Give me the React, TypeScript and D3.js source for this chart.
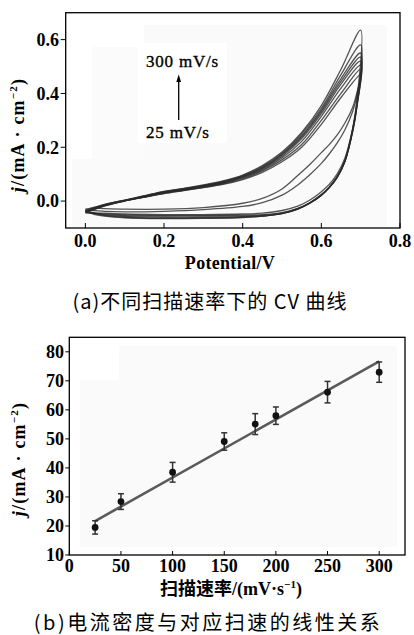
import React from "react";
import * as d3 from "d3";

// CV curves: potential grids for the anodic (forward) and cathodic (reverse) scans
const forwardV = [0, 0.05, 0.1, 0.15, 0.2, 0.25, 0.3, 0.35, 0.4, 0.45, 0.5, 0.55, 0.6, 0.65, 0.7];
const reverseV = [0.7, 0.69, 0.68, 0.66, 0.64, 0.62, 0.6, 0.57, 0.54, 0.5, 0.45, 0.4, 0.3, 0.2, 0.1, 0.05, 0.02, 0];

const scanRates = [25, 50, 100, 150, 180, 200, 250, 300];

// current density (mA/cm2) on the forward scan, one row per scan rate
const forwardJ = [
  [-0.032, -0.012, 0.003, 0.015, 0.028, 0.039, 0.05, 0.062, 0.08, 0.107, 0.146, 0.2, 0.285, 0.385, 0.47],
  [-0.036, -0.014, 0.002, 0.015, 0.029, 0.04, 0.051, 0.064, 0.083, 0.112, 0.153, 0.21, 0.3, 0.4, 0.49],
  [-0.04, -0.016, 0.001, 0.015, 0.03, 0.041, 0.053, 0.066, 0.086, 0.116, 0.16, 0.222, 0.315, 0.42, 0.505],
  [-0.044, -0.018, 0.0, 0.016, 0.032, 0.043, 0.055, 0.068, 0.089, 0.12, 0.166, 0.232, 0.325, 0.435, 0.52],
  [-0.042, -0.017, 0.001, 0.017, 0.033, 0.044, 0.056, 0.07, 0.091, 0.122, 0.17, 0.238, 0.332, 0.445, 0.535],
  [-0.04, -0.016, 0.002, 0.018, 0.034, 0.045, 0.057, 0.071, 0.093, 0.125, 0.174, 0.243, 0.338, 0.455, 0.55],
  [-0.038, -0.014, 0.003, 0.019, 0.035, 0.046, 0.058, 0.073, 0.095, 0.128, 0.178, 0.25, 0.345, 0.47, 0.58],
  [-0.035, -0.012, 0.004, 0.02, 0.036, 0.047, 0.06, 0.075, 0.097, 0.132, 0.182, 0.255, 0.355, 0.49, 0.635],
];

// current density on the reverse scan
const reverseJ = [
  [0.47, 0.4, 0.35, 0.29, 0.245, 0.21, 0.18, 0.135, 0.095, 0.045, 0.01, -0.008, -0.024, -0.03, -0.03, -0.028, -0.026, -0.03],
  [0.49, 0.39, 0.335, 0.265, 0.215, 0.175, 0.14, 0.097, 0.06, 0.022, -0.006, -0.02, -0.032, -0.038, -0.04, -0.038, -0.035, -0.035],
  [0.505, 0.35, 0.27, 0.16, 0.1, 0.062, 0.035, 0.003, -0.019, -0.035, -0.045, -0.048, -0.05, -0.05, -0.048, -0.045, -0.043, -0.04],
  [0.52, 0.345, 0.26, 0.15, 0.09, 0.052, 0.024, -0.007, -0.027, -0.043, -0.05, -0.052, -0.053, -0.053, -0.051, -0.048, -0.046, -0.044],
  [0.535, 0.35, 0.262, 0.148, 0.088, 0.05, 0.022, -0.008, -0.029, -0.045, -0.053, -0.055, -0.056, -0.056, -0.054, -0.05, -0.045, -0.042],
  [0.55, 0.355, 0.265, 0.147, 0.087, 0.049, 0.021, -0.009, -0.03, -0.047, -0.055, -0.058, -0.06, -0.06, -0.057, -0.052, -0.045, -0.04],
  [0.58, 0.36, 0.268, 0.148, 0.088, 0.05, 0.022, -0.008, -0.03, -0.047, -0.056, -0.06, -0.063, -0.064, -0.06, -0.054, -0.046, -0.038],
  [0.635, 0.37, 0.272, 0.15, 0.09, 0.052, 0.024, -0.006, -0.028, -0.046, -0.056, -0.061, -0.064, -0.065, -0.062, -0.056, -0.048, -0.035],
];

const cvXTicks = [0, 0.2, 0.4, 0.6, 0.8];
const cvYTicks = [0, 0.2, 0.4, 0.6];

// panel b: peak current density vs scan rate
const rates = [25, 50, 100, 150, 180, 200, 250, 300];
const density = [19.5, 28.4, 38.5, 49.1, 55.1, 58, 66.1, 73];
const densityErr = [2.3, 2.7, 3.4, 3, 3.6, 3, 3.7, 3.5];
const fitRates = [25, 300];
const fitDensity = [21.7, 76.7];
const rateTicks = [0, 50, 100, 150, 200, 250, 300];
const densityTicks = [10, 20, 30, 40, 50, 60, 70, 80];

const serif = "'Liberation Serif', 'Times New Roman', serif";
const cjk = "'Noto Sans CJK SC', sans-serif";

function YTitle({ x, y }: { x: number; y: number }) {
  return (
    <text
      transform={`translate(${x},${y}) rotate(-90)`}
      textAnchor="middle"
      fontFamily={serif}
      fontWeight="bold"
      fontSize={18}
      letterSpacing={1.2}
    >
      <tspan fontStyle="italic">j</tspan>/(mA · cm<tspan dy={-7} fontSize={11}>−2</tspan>
      <tspan dy={7}>)</tspan>
    </text>
  );
}

export default function App() {
  // panel a scales
  const xa = d3.scaleLinear().domain([-0.05, 0.8]).range([65.7, 400]);
  const ya = d3.scaleLinear().domain([-0.1, 0.7]).range([228, 12.7]);
  // panel b scales
  const xb = d3.scaleLinear().domain([0, 325]).range([69.3, 405]);
  const yb = d3.scaleLinear().domain([10, 85]).range([555, 337.3]);

  const loop = d3
    .line<[number, number]>()
    .x((d) => xa(d[0]))
    .y((d) => ya(d[1]))
    .curve(d3.curveCatmullRom.alpha(0.5));

  const loops = scanRates.map((r, i) => {
    const pts: [number, number][] = forwardV.map((v, k) => [v, forwardJ[i][k]]);
    reverseV.slice(1).forEach((v, k) => pts.push([v, reverseJ[i][k + 1]]));
    return { rate: r, d: loop(pts) || "" };
  });

  const fit = d3
    .line<number>()
    .x((d) => xb(d))
    .y((_, i) => yb(fitDensity[i]));

  const fmt = d3.format(".1f");

  return (
    <svg
      width={414}
      height={635}
      style={{ position: "absolute", left: 0, top: 0, background: "#fff" }}
    >
      {/* ---------- panel a ---------- */}
      <g>
        {/* faint scan background */}
        <rect x={144} y={25} width={243} height={202} fill="#fafafa" />
        <rect x={72} y={159} width={315} height={68} fill="#fafafa" />
        <rect x={92} y={47} width={52} height={112} fill="#fbfbfb" />
        <rect x={138} y={43} width={89} height={100} fill="#fff" />

        {loops.map((l) => (
          <path
            key={l.rate}
            d={l.d}
            fill="none"
            stroke="#2b2b2b"
            strokeWidth={1.3}
            strokeOpacity={0.8}
          />
        ))}
        <rect
          x={xa(-0.05)}
          y={ya(0.7)}
          width={xa(0.8) - xa(-0.05)}
          height={ya(-0.1) - ya(0.7)}
          fill="none"
          stroke="#000"
          strokeWidth={1.3}
        />
        {cvXTicks.map((t) => (
          <g key={t}>
            <line x1={xa(t)} x2={xa(t)} y1={ya(-0.1)} y2={ya(-0.1) - 5} stroke="#000" />
            <text
              x={xa(t)}
              y={247}
              textAnchor="middle"
              fontFamily={serif}
              fontWeight="bold"
              fontSize={18}
            >
              {fmt(t)}
            </text>
          </g>
        ))}
        {cvYTicks.map((t) => (
          <g key={t}>
            <line x1={xa(-0.05) - 5} x2={xa(-0.05)} y1={ya(t)} y2={ya(t)} stroke="#000" />
            <text
              x={59}
              y={ya(t)}
              dy="0.35em"
              textAnchor="end"
              fontFamily={serif}
              fontWeight="bold"
              fontSize={18}
            >
              {fmt(t)}
            </text>
          </g>
        ))}
        <text
          x={230}
          y={269}
          textAnchor="middle"
          fontFamily={serif}
          fontWeight="bold"
          fontSize={18}
          letterSpacing={0.3}
        >
          Potential/V
        </text>
        <YTitle x={24} y={135} />

        {/* scan-rate annotation */}
        <text
          x={146}
          y={66.5}
          fontFamily={serif}
          fontSize={17}
          letterSpacing={0.8}
          stroke="#000"
          strokeWidth={0.35}
        >
          300 mV/s
        </text>
        <text
          x={146}
          y={138}
          fontFamily={serif}
          fontSize={17}
          letterSpacing={0.8}
          stroke="#000"
          strokeWidth={0.35}
        >
          25 mV/s
        </text>
        <line x1={178.7} x2={178.7} y1={120} y2={80} stroke="#000" strokeWidth={1.3} />
        <path d="M176.3,82 L178.7,74.5 L181.1,82 Z" fill="#000" />

        <text x={210} y={309} textAnchor="middle" fontFamily={cjk} fontSize={20} letterSpacing={1}>
          (a)不同扫描速率下的 CV 曲线
        </text>
      </g>

      {/* ---------- panel b ---------- */}
      <g>
        <rect x={119} y={346} width={278} height={201} fill="#fafafa" />
        <rect x={80} y={380} width={317} height={167} fill="#fafafa" />

        <path d={fit(fitRates) || ""} fill="none" stroke="#5a5a5a" strokeWidth={2.6} />
        {rates.map((r, i) => {
          const hi = yb(density[i] + densityErr[i]);
          const lo = yb(density[i] - densityErr[i]);
          return (
            <g key={r} stroke="#333" strokeWidth={1.5}>
              <line x1={xb(r)} x2={xb(r)} y1={lo} y2={hi} />
              <line x1={xb(r) - 3} x2={xb(r) + 3} y1={hi} y2={hi} />
              <line x1={xb(r) - 3} x2={xb(r) + 3} y1={lo} y2={lo} />
              <circle cx={xb(r)} cy={yb(density[i])} r={3.4} fill="#111" stroke="none" />
            </g>
          );
        })}
        <rect
          x={xb(0)}
          y={yb(85)}
          width={xb(325) - xb(0)}
          height={yb(10) - yb(85)}
          fill="none"
          stroke="#000"
          strokeWidth={1.3}
        />
        {rateTicks.map((t) => (
          <g key={t}>
            <line x1={xb(t)} x2={xb(t)} y1={yb(10)} y2={yb(10) - 4} stroke="#000" />
            <text
              x={xb(t)}
              y={572}
              textAnchor="middle"
              fontFamily={serif}
              fontWeight="bold"
              fontSize={18}
            >
              {t}
            </text>
          </g>
        ))}
        {densityTicks.map((t) => (
          <g key={t}>
            <line x1={xb(0) - 4} x2={xb(0)} y1={yb(t)} y2={yb(t)} stroke="#000" />
            <text
              x={64}
              y={yb(t)}
              dy="0.35em"
              textAnchor="end"
              fontFamily={serif}
              fontWeight="bold"
              fontSize={18}
            >
              {t}
            </text>
          </g>
        ))}
        <text x={231} y={595} textAnchor="middle" fontSize={18}>
          <tspan fontFamily={cjk} fontWeight="bold">扫描速率</tspan>
          <tspan fontFamily={serif} fontWeight="bold">/(mV·s</tspan>
          <tspan fontFamily={serif} fontWeight="bold" dy={-7} fontSize={11}>−1</tspan>
          <tspan fontFamily={serif} fontWeight="bold" dy={7}>)</tspan>
        </text>
        <YTitle x={25} y={459} />

        <text x={208} y={630} textAnchor="middle" fontFamily={cjk} fontSize={20} letterSpacing={2.5}>
          (b)电流密度与对应扫速的线性关系
        </text>
      </g>
    </svg>
  );
}
